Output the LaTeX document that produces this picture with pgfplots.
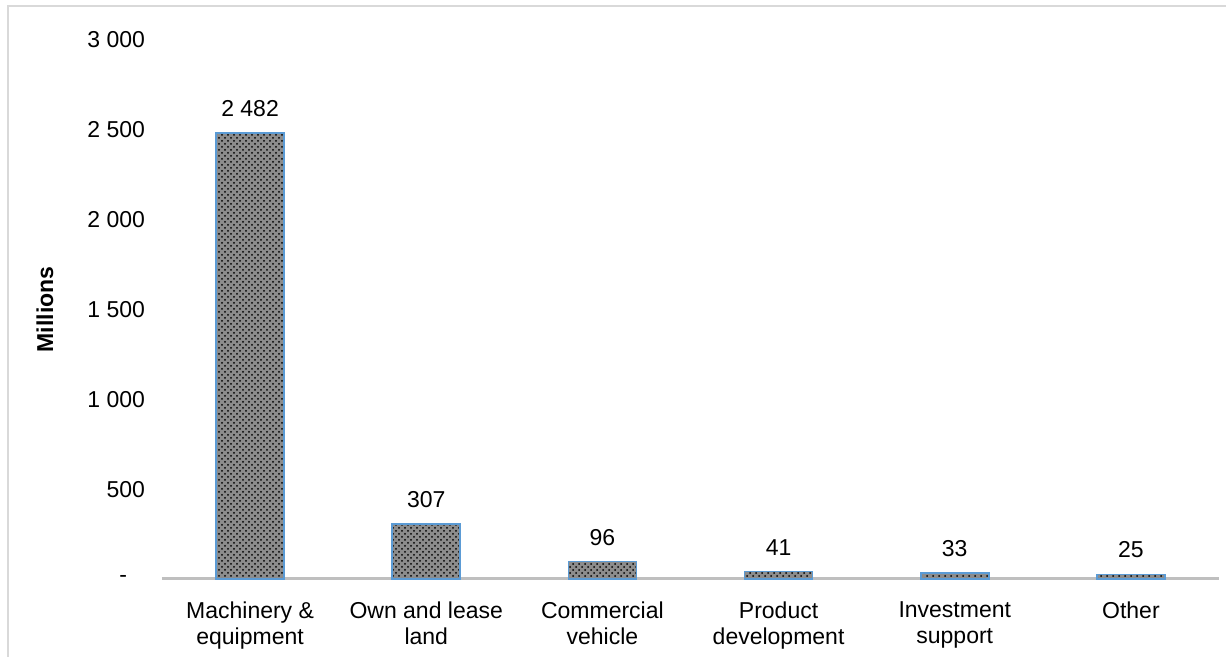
\documentclass[border=0pt]{standalone}
\usepackage{fontspec}
\setmainfont{Liberation Sans}
\usepackage{pgfplots}
\pgfplotsset{compat=1.18}
\usetikzlibrary{patterns}
\definecolor{barborder}{HTML}{5B9BD5}
\definecolor{framegray}{HTML}{D9D9D9}
\definecolor{axisgray}{HTML}{BFBFBF}
\begin{document}
\begin{tikzpicture}
\useasboundingbox (-81pt,-39pt) rectangle (532pt,289.5pt);
\draw[framegray, line width=0.8pt] (-77pt,-39pt) -- (-77pt,286.5pt) -- (532pt,286.5pt);
\begin{axis}[
  at={(0,0)}, anchor=south west,
  scale only axis,
  width=528.5pt, height=269.5pt,
  xmin=-0.5, xmax=5.5,
  ymin=0, ymax=3000,
  axis x line=bottom, axis y line=left,
  x axis line style={axisgray, line width=1.5pt, -},
  y axis line style={draw=none},
  ytick={0,500,1000,1500,2000,2500,3000},
  yticklabels={{-\hspace*{9pt}},500,1 000,1 500,2 000,2 500,3 000},
  xtick={0,1,2,3,4,5},
  xticklabels={{Machinery \&\\equipment},{Own and lease\\land},{Commercial\\vehicle},{Product\\development},{Investment\\support},{Other}},
  major tick length=0pt,
  tick label style={font=\fontsize{11.5}{13}\selectfont},
  xticklabel style={align=center, yshift=-8pt},
  yticklabel style={xshift=-5pt},
  /pgf/number format/assume math mode=true,
  ylabel={\textbf{Millions}},
  every axis y label/.style={at={(axis description cs:-0.1107,0.5)}, rotate=90, anchor=center, font=\fontsize{11.5}{13.5}\selectfont},
  ybar, bar width=34pt,
  nodes near coords={\pgfmathprintnumber[1000 sep={\ }]{\pgfplotspointmeta}},
  every node near coord/.append style={font=\fontsize{11.5}{13.5}\selectfont, yshift=4.5pt},
  clip=false,
]
\addplot[draw=barborder, line width=0.75pt, fill=black!45, postaction={pattern=crosshatch dots, pattern color=black}]
  coordinates {(0,2482) (1,307) (2,96) (3,41) (4,33) (5,25)};
\end{axis}
\end{tikzpicture}
\end{document}
